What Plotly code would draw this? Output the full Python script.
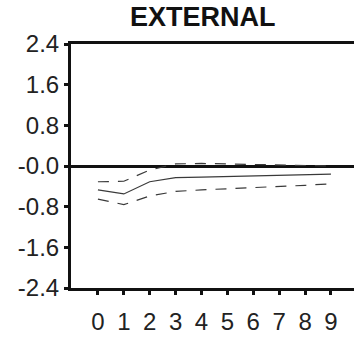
import plotly.graph_objects as go

steps = [0, 1, 2, 3, 4, 5, 6, 7, 8, 9]
response = [-0.47, -0.55, -0.31, -0.23, -0.22, -0.21, -0.20, -0.19, -0.18, -0.16]
upper = [-0.31, -0.30, -0.08, 0.04, 0.05, 0.04, 0.02, 0.01, 0.00, 0.00]
lower = [-0.65, -0.76, -0.59, -0.50, -0.47, -0.45, -0.43, -0.41, -0.38, -0.35]
ytick_vals = [2.4, 1.6, 0.8, 0.0, -0.8, -1.6, -2.4]
ytick_text = ["2.4", "1.6", "0.8", "-0.0", "-0.8", "-1.6", "-2.4"]
title_text = "EXTERNAL"

fig = go.Figure()
line_col = "#3a3a3a"
fig.add_trace(go.Scatter(x=steps, y=upper, mode="lines",
                         line=dict(color=line_col, width=1.2, dash="11px,9px")))
fig.add_trace(go.Scatter(x=steps, y=lower, mode="lines",
                         line=dict(color=line_col, width=1.2, dash="11px,9px")))
fig.add_trace(go.Scatter(x=steps, y=response, mode="lines",
                         line=dict(color=line_col, width=1.2)))

font = "Liberation Sans, Arial, sans-serif"
fig.update_layout(
    width=354, height=337,
    margin=dict(l=71, r=0, t=44, b=49),
    paper_bgcolor="white", plot_bgcolor="white",
    showlegend=False,
    title=dict(text="<b>" + title_text + "</b>", x=0.573, xanchor="center",
               y=0.95, yanchor="middle",
               font=dict(family=font, size=27, color="#111111")),
    xaxis=dict(range=[-1.04, 9.89], tickmode="array", tickvals=steps,
               ticktext=[str(s) for s in steps],
               showgrid=False, zeroline=False,
               showline=True, linewidth=3, linecolor="#111111", mirror=True,
               ticks="outside", ticklen=4, tickwidth=3, tickcolor="#111111",
               ticklabelstandoff=6,
               tickfont=dict(family=font, size=24, color="#222222")),
    yaxis=dict(range=[-2.4, 2.4], tickmode="array", tickvals=ytick_vals,
               ticktext=ytick_text, showgrid=False,
               zeroline=True, zerolinewidth=3, zerolinecolor="#111111",
               showline=True, linewidth=3, linecolor="#111111",
               ticks="outside", ticklen=4, tickwidth=3, tickcolor="#111111",
               tickfont=dict(family=font, size=24, color="#222222")),
)
fig.write_html("out.html")
